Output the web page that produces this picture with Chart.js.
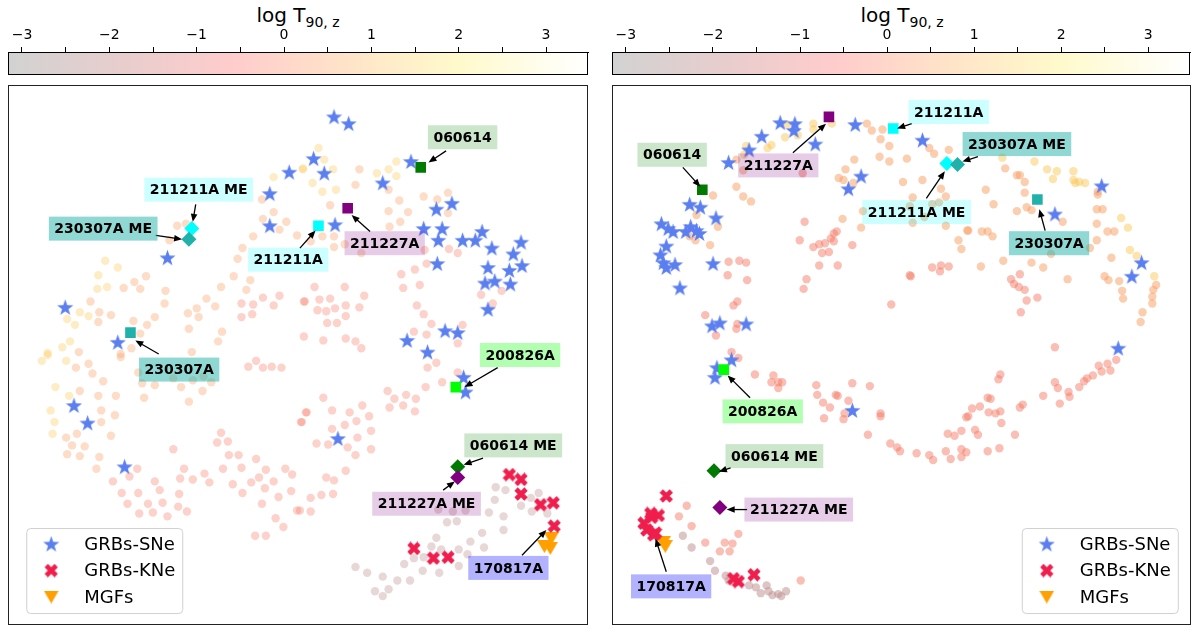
<!DOCTYPE html>
<html>
<head>
<meta charset="utf-8">
<script src="https://cdn.jsdelivr.net/npm/chart.js@4.4.0/dist/chart.umd.min.js"></script>
<style>
body { margin: 0; background: #fff; width: 1200px; height: 637px; overflow: hidden; font-family: "DejaVu Sans"; }
.abs { position: absolute; }
.frame { position: absolute; border: 1.3px solid #222; box-sizing: border-box; }
.frame canvas { position: absolute; left: 0; top: 0; }
.cbtitle { position: absolute; top: 3px; width: 580px; text-align: center; font-size: 20px; color: #000; }
.cbtitle sub { font-size: 14px; }
</style>
</head>
<body>
<div class="cbtitle" style="left:8px">log T<sub>90, z</sub></div>
<div class="cbtitle" style="left:612px">log T<sub>90, z</sub></div>
<canvas id="cbLeft" class="abs" width="600" height="80" style="left:0;top:0"></canvas>
<canvas id="cbRight" class="abs" width="600" height="80" style="left:600px;top:0"></canvas>
<div class="frame" style="left:8px;top:85px;width:580px;height:540px"><canvas id="left" width="578" height="538"></canvas></div>
<div class="frame" style="left:612px;top:85px;width:579px;height:540px"><canvas id="right" width="577" height="538"></canvas></div>
<script>
// colour bar
var cbTicks = [-3, -2.5, -2, -1.5, -1, -0.5, 0, 0.5, 1, 1.5, 2, 2.5, 3];
var cbRange = [-3.16, 3.48];
var cbStops = [[-3.16, '#d2d2d2'], [-1.8, '#e9cdcd'], [-0.6, '#ffcccc'], [0.8, '#ffe5c8'], [2.0, '#fffacc'], [3.48, '#ffffff']];

// log T90,z of each colour band of the background points
var bandLogT = [2.0, 1.0, -0.3, -1.8];
var pointStops = [[-3, [150, 140, 140]], [-1.8, [190, 140, 140]], [-0.3, [245, 125, 105]], [1.0, [249, 158, 98]], [2.0, [252, 200, 90]], [3.4, [255, 240, 170]]];

// background points, left panel
var leftGold = [[303,163],[273,172],[319,142],[325,154],[303,164],[334,164],[313,178],[323,187],[337,185],[379,168],[391,164],[399,156],[399,171],[100,258],[113,265],[93,273],[92,287],[102,285],[35,361],[41,355],[60,361],[49,388],[44,412],[48,424],[46,436],[63,397],[61,318],[69,324],[64,341],[56,347],[41,353],[74,311],[83,315]];
var leftOrange = [[361,164],[357,180],[391,185],[331,201],[402,196],[411,208],[427,192],[441,195],[452,188],[452,209],[391,207],[392,223],[403,218],[311,238],[323,233],[335,233],[346,241],[335,244],[363,250],[142,274],[130,280],[119,286],[136,287],[85,300],[94,311],[106,314],[93,321],[73,352],[70,368],[83,364],[87,374],[98,382],[74,392],[93,397],[111,397],[96,412],[96,424],[110,417],[60,440],[71,436],[66,448],[79,449],[106,438],[61,457],[74,459],[94,460],[91,472],[261,195],[273,208],[262,215],[286,218],[279,226],[297,232],[252,233],[241,245],[236,256],[232,274],[249,278],[245,288],[219,285],[204,297],[213,305],[194,307],[185,312],[196,316],[174,222],[183,220],[166,237],[162,289],[161,302],[151,316],[143,324],[129,320],[136,333],[127,348],[116,354],[186,328],[220,331],[216,341],[189,352],[116,357],[134,373],[138,384],[151,386],[140,399],[178,388],[190,381],[201,377],[209,383],[200,392],[186,403],[170,379]];
var leftSalmon = [[240,302],[252,303],[262,296],[279,294],[273,304],[240,316],[251,313],[304,300],[247,367],[255,361],[262,368],[271,367],[281,368],[306,414],[301,424],[170,452],[219,435],[215,445],[226,444],[227,458],[237,458],[255,462],[221,472],[240,471],[265,473],[285,472],[292,478],[258,481],[250,486],[231,488],[241,497],[264,492],[273,485],[291,495],[278,501],[261,508],[297,515],[275,523],[283,532],[254,541],[265,541],[133,472],[125,480],[108,485],[151,485],[181,472],[177,482],[190,483],[202,477],[207,486],[117,497],[134,497],[156,494],[176,498],[123,508],[144,508],[159,507],[175,511],[135,518],[149,517],[164,521],[184,516],[428,247],[453,246],[462,250],[430,261],[418,267],[404,272],[406,286],[423,283],[315,285],[346,285],[305,300],[320,298],[331,297],[366,294],[318,309],[327,310],[336,307],[347,304],[361,306],[347,315],[328,322],[338,322],[420,304],[427,313],[435,323],[417,331],[430,334],[467,324],[462,343],[304,336],[324,340],[347,338],[357,341],[363,348],[486,293],[498,302],[507,289],[431,368],[440,363],[462,373],[446,383],[429,388],[390,392],[397,400],[409,396],[419,400],[392,409],[406,407],[418,413],[324,399],[307,414],[302,424],[333,412],[351,414],[364,407],[371,418],[358,423],[346,427],[333,431],[373,433],[359,440],[317,446],[329,447],[349,450],[373,452],[357,458],[347,474],[327,481],[335,484],[311,502],[322,499],[334,498],[311,516],[300,515]];
var leftRosy = [[501,491],[511,494],[500,504],[494,517],[509,521],[509,535],[487,538],[489,553],[475,547],[463,555],[472,560],[463,572],[442,514],[457,516],[470,515],[451,527],[461,526],[440,543],[435,552],[445,555],[427,563],[417,564],[407,570],[426,577],[443,579],[545,497],[537,502],[527,510],[538,516],[554,518],[357,573],[369,579],[385,583],[400,587],[413,587],[391,596],[377,598],[385,603]];

// background points, right panel
var rightGold = [[784,118],[811,117],[830,117],[811,123],[782,131],[795,129],[768,139],[764,142],[742,140],[740,149],[1127,214],[1134,224],[1143,253],[1136,247],[1161,274],[1051,164],[1061,166],[1057,174],[1078,166],[1078,175],[1080,178],[1084,177],[1090,178],[1038,156],[1005,152]];
var rightOrange = [[866,117],[871,124],[882,123],[880,133],[889,140],[879,151],[889,156],[907,153],[853,154],[844,164],[837,173],[852,178],[842,175],[903,177],[732,154],[739,165],[732,182],[739,192],[747,197],[708,191],[713,223],[705,242],[691,211],[684,233],[690,237],[841,215],[862,207],[860,224],[930,142],[935,148],[950,144],[923,175],[913,193],[942,184],[947,192],[910,202],[933,200],[940,198],[925,213],[913,219],[947,222],[970,227],[960,237],[963,246],[984,228],[990,228],[995,233],[988,185],[996,200],[1008,163],[1020,170],[1023,170],[1028,177],[1028,188],[1020,207],[1030,203],[1035,206],[1067,218],[1103,187],[1103,190],[1102,205],[1108,205],[1102,220],[1113,228],[1120,228],[1102,237],[1095,245],[1117,255],[1163,283],[1160,288],[1159,295],[1159,302],[1149,311],[1147,321],[1128,289],[1129,297],[1125,279],[1114,278],[1110,274],[1072,277],[1055,251],[1047,265],[1035,260],[1006,258],[983,264],[969,227]];
var rightSalmon = [[800,168],[802,218],[797,237],[811,244],[817,241],[823,240],[829,235],[832,230],[835,228],[832,238],[820,250],[827,249],[851,242],[817,263],[836,263],[724,259],[735,258],[742,260],[723,273],[743,278],[804,277],[801,287],[910,273],[891,303],[729,304],[733,300],[700,314],[732,328],[733,323],[711,335],[727,352],[734,358],[1023,272],[1014,277],[1017,282],[1022,285],[1028,288],[1030,299],[1041,296],[1024,311],[933,265],[942,263],[950,264],[941,269],[911,274],[1059,347],[1122,360],[1113,364],[1104,366],[1116,371],[1107,372],[1098,376],[1092,379],[1089,382],[1084,388],[1073,393],[1074,398],[1064,405],[1059,383],[1062,389],[1047,397],[1026,406],[1023,409],[1003,375],[1001,380],[990,399],[993,400],[982,408],[974,410],[991,414],[998,415],[1003,413],[970,418],[968,419],[1004,425],[977,432],[980,437],[949,436],[956,438],[963,433],[1018,437],[947,454],[963,452],[968,455],[963,460],[952,462],[990,454],[1002,451],[930,458],[934,463],[917,456],[900,454],[751,375],[770,376],[768,383],[775,383],[779,383],[775,389],[814,386],[851,384],[869,387],[815,396],[821,404],[828,409],[834,396],[836,397],[847,402],[843,415],[842,421],[822,420],[867,437],[880,415],[880,418],[890,446],[897,450],[681,510],[673,521],[686,531],[700,548],[734,539],[720,548],[728,549],[798,587],[715,557],[725,557]];
var rightRosy = [[677,541],[686,553],[705,567],[710,577],[721,582],[724,587],[733,588],[745,592],[752,594],[763,592],[757,600],[765,598],[769,602],[775,601],[778,603],[783,598]];

// GRBs-SNe, GRBs-KNe, MGFs
var leftStars = [[335,110],[350,117],[314,153],[325,168],[414,156],[385,178],[289,167],[269,189],[269,222],[164,255],[59,306],[113,342],[336,221],[440,205],[456,199],[427,225],[446,225],[442,237],[467,237],[480,237],[487,228],[497,245],[527,239],[519,251],[528,263],[493,265],[515,268],[441,261],[490,281],[500,279],[516,282],[493,308],[449,330],[462,332],[410,340],[431,352],[68,407],[82,425],[120,470],[339,441],[468,378],[470,393]];
var rightStars = [[777,116],[792,117],[791,124],[758,130],[745,144],[724,157],[813,138],[854,118],[860,171],[847,184],[923,134],[684,200],[695,203],[711,214],[655,220],[662,225],[667,228],[680,228],[685,223],[694,230],[691,227],[660,243],[654,252],[657,260],[660,265],[669,262],[708,261],[674,286],[707,325],[715,322],[742,323],[727,360],[712,368],[710,378],[851,412],[1107,181],[1059,210],[1148,260],[1138,274],[1124,348]];
var leftKNe = [[417,554],[437,564],[452,563],[515,478],[527,483],[527,498],[547,509],[560,507],[561,531]];
var rightKNe = [[660,500],[645,522],[637,528],[640,535],[649,538],[652,520],[644,518],[647,540],[734,588],[750,581],[729,585]];
var leftMGF = [[558,544],[551,552],[557,554]];
var rightMGF = [[659,552],[657,548]];
var legendNames = ['GRBs-SNe', 'GRBs-KNe', 'MGFs'];

// named bursts
var sqNames = ['060614', '211211A', '211227A', '230307A', '200826A'];
var leftSquares = [[424,162],[319,222],[349,204],[126,332],[460,388]];
var rightSquares = [[697,185],[893,122],[827,110],[1041,195],[719,370]];
var dmNames = ['060614 ME', '211211A ME', '211227A ME', '230307A ME'];
var leftDiamonds = [[462,470],[189,225],[462,481],[186,236]];
var rightDiamonds = [[709,474],[948,158],[715,512],[959,159]];

var annNames = ['060614', '211211A ME', '230307A ME', '211211A', '211227A', '230307A', '200826A', '060614 ME', '211227A ME', '170817A'];
var leftLabelAt = [[467,131],[196,185],[98,225],[288,257],[387,240],[176,370],[526,355],[519,448],[430,508],[514,574]];
var leftArrowFrom = [[450,145],[193,200],[152,232],[300,245],[372,228],[155,354],[503,368],[488,461],[447,494],[528,561]];
var leftArrowTo = [[432,157],[190,218],[179,236],[316,227],[353,211],[131,340],[469,388],[468,468],[459,485],[553,535]];
var rightLabelAt = [[666,149],[917,208],[1020,138],[950,105],[775,160],[1053,240],[759,413],[771,459],[796,514],[665,593]];
var rightArrowFrom = [[677,162],[927,194],[980,151],[912,117],[790,147],[1049,227],[746,399],[726,471],[743,514],[660,578]];
var rightArrowTo = [[695,182],[946,166],[964,156],[897,122],[824,117],[1043,205],[723,376],[714,475],[722,514],[649,544]];

var markerColor = { '060614': '#007a00', '211211A': '#00ffff', '211227A': '#800080', '230307A': '#20b2aa', '200826A': '#00ff00' };
var boxColor = { '060614': 'rgba(0,128,0,0.2)', '211211A': 'rgba(0,255,255,0.2)', '211227A': 'rgba(128,0,128,0.2)', '230307A': 'rgba(32,178,170,0.5)', '200826A': 'rgba(0,255,0,0.3)', '170817A': 'rgba(0,0,255,0.3)' };

Chart.defaults.font.family = 'DejaVu Sans';
Chart.defaults.animation = false;

function lerpColor(stops, t) {
    if (t <= stops[0][0]) return stops[0][1];
    for (var i = 1; i < stops.length; i++) {
        if (t <= stops[i][0]) {
            var f = (t - stops[i - 1][0]) / (stops[i][0] - stops[i - 1][0]);
            var a = stops[i - 1][1], b = stops[i][1];
            return [0, 1, 2].map(function (k) { return Math.round(a[k] + (b[k] - a[k]) * f) });
        }
    }
    return stops[stops.length - 1][1];
}

function pts(a) { return a.map(function (p) { return { x: p[0], y: p[1] } }) }

// marker images
function starImg(s, color) {
    var c = document.createElement('canvas'); c.width = s; c.height = s;
    var g = c.getContext('2d'), R = s / 2, r = R * 0.4;
    g.fillStyle = color; g.beginPath();
    for (var i = 0; i < 10; i++) {
        var ang = -Math.PI / 2 + i * Math.PI / 5, rr = i % 2 ? r : R;
        g.lineTo(R + rr * Math.cos(ang), R + rr * Math.sin(ang) + 0.6);
    }
    g.closePath(); g.fill();
    return c;
}
function xImg(s, color) {
    var c = document.createElement('canvas'); c.width = s; c.height = s;
    var g = c.getContext('2d');
    g.strokeStyle = color; g.lineWidth = s * 0.33; g.lineCap = 'butt';
    g.beginPath(); g.moveTo(2, 2); g.lineTo(s - 2, s - 2); g.moveTo(s - 2, 2); g.lineTo(2, s - 2); g.stroke();
    return c;
}
function triImg(w, h, color) {
    var c = document.createElement('canvas'); c.width = w; c.height = h;
    var g = c.getContext('2d');
    g.fillStyle = color; g.beginPath(); g.moveTo(0, 0); g.lineTo(w, 0); g.lineTo(w / 2, h); g.closePath(); g.fill();
    return c;
}
var STAR = starImg(17, '#5b7fef');
var CROSS = xImg(14, '#f01e4c');
var TRI = triImg(15, 13, '#ffa000');
var legendIcons = [STAR, CROSS, TRI];

function overlay(labelAt, from, to, legendAt) {
    return {
        id: 'overlay',
        afterDatasetsDraw: function (chart) {
            var ctx = chart.ctx, sx = chart.scales.x, sy = chart.scales.y;
            ctx.save();
            annNames.forEach(function (name, i) {
                var tx = sx.getPixelForValue(from[i][0]), ty = sy.getPixelForValue(from[i][1]);
                var hx = sx.getPixelForValue(to[i][0]), hy = sy.getPixelForValue(to[i][1]);
                var d = Math.hypot(hx - tx, hy - ty), ux = (hx - tx) / d, uy = (hy - ty) / d;
                ctx.strokeStyle = '#000'; ctx.fillStyle = '#000'; ctx.lineWidth = 1.3;
                ctx.beginPath(); ctx.moveTo(tx, ty); ctx.lineTo(hx - ux * 6, hy - uy * 6); ctx.stroke();
                ctx.beginPath();
                ctx.moveTo(hx, hy);
                ctx.lineTo(hx - ux * 8 - uy * 3.3, hy - uy * 8 + ux * 3.3);
                ctx.lineTo(hx - ux * 8 + uy * 3.3, hy - uy * 8 - ux * 3.3);
                ctx.closePath(); ctx.fill();
            });
            ctx.font = 'bold 14px "DejaVu Sans"';
            ctx.textAlign = 'center'; ctx.textBaseline = 'middle';
            annNames.forEach(function (name, i) {
                var cx = sx.getPixelForValue(labelAt[i][0]), cy = sy.getPixelForValue(labelAt[i][1]);
                var w = ctx.measureText(name).width + 11, h = 24;
                ctx.fillStyle = boxColor[name.replace(' ME', '')];
                ctx.fillRect(cx - w / 2, cy - h / 2, w, h);
                ctx.fillStyle = '#000';
                ctx.fillText(name, cx, cy + 1);
            });
            // legend
            var bx = sx.getPixelForValue(legendAt[0]), by = sy.getPixelForValue(legendAt[1]);
            ctx.beginPath();
            ctx.roundRect(bx + 0.5, by + 0.5, 156, 85, 4);
            ctx.fillStyle = 'rgba(255,255,255,0.8)'; ctx.fill();
            ctx.strokeStyle = '#d0d0d0'; ctx.lineWidth = 1; ctx.stroke();
            ctx.font = '18px "DejaVu Sans"'; ctx.textAlign = 'left'; ctx.fillStyle = '#000';
            legendNames.forEach(function (n, i) {
                var yy = by + 16 + i * 26.5, ic = legendIcons[i];
                ctx.drawImage(ic, bx + 25 - ic.width / 2, yy - ic.height / 2);
                ctx.fillText(n, bx + 58, yy + 1);
            });
            ctx.restore();
        }
    };
}

function panel(id, bands, alpha, stars, kne, mgf, squares, diamonds, labelAt, from, to, legendAt, xr) {
    var sets = bands.map(function (b, i) {
        var c = lerpColor(pointStops, bandLogT[i]);
        return {
            data: pts(b), pointRadius: 4.2, pointHoverRadius: 4.2, borderWidth: 0, order: 10,
            backgroundColor: 'rgba(' + c.join(',') + ',' + alpha + ')'
        };
    });
    sets.push({ data: pts(stars), pointStyle: STAR, order: 5 });
    sets.push({ data: pts(kne), pointStyle: CROSS, order: 4 });
    sets.push({ data: pts(mgf), pointStyle: TRI, order: 4 });
    sets.push({
        data: pts(squares), pointStyle: 'rect', pointRadius: 7.5, borderWidth: 0, order: 1,
        backgroundColor: sqNames.map(function (n) { return markerColor[n] })
    });
    sets.push({
        data: pts(diamonds), pointStyle: 'rectRot', pointRadius: 7.5, borderWidth: 0, order: 1,
        backgroundColor: dmNames.map(function (n) { return markerColor[n.replace(' ME', '')] })
    });
    return new Chart(document.getElementById(id), {
        type: 'scatter',
        data: { datasets: sets },
        options: {
            responsive: false,
            layout: { padding: 0 },
            plugins: { legend: { display: false }, tooltip: { enabled: false } },
            scales: {
                x: { type: 'linear', min: xr[0], max: xr[1], display: false },
                y: { type: 'linear', min: 86, max: 624, reverse: true, display: false }
            }
        },
        plugins: [overlay(labelAt, from, to, legendAt)]
    });
}

panel('left', [leftGold, leftOrange, leftSalmon, leftRosy], 0.35, leftStars, leftKNe, leftMGF,
    leftSquares, leftDiamonds, leftLabelAt, leftArrowFrom, leftArrowTo, [19, 533], [9, 587]);
panel('right', [rightGold, rightOrange, rightSalmon, rightRosy], 0.5, rightStars, rightKNe, rightMGF,
    rightSquares, rightDiamonds, rightLabelAt, rightArrowFrom, rightArrowTo, [1025, 533], [613, 1190]);

// colour bars
var cbPaint = {
    id: 'cbPaint',
    beforeDraw: function (chart) {
        var ctx = chart.ctx, a = chart.chartArea, sx = chart.scales.x;
        var x0 = sx.getPixelForValue(cbRange[0]), x1 = sx.getPixelForValue(cbRange[1]);
        var grad = ctx.createLinearGradient(x0, 0, x1, 0);
        cbStops.forEach(function (s) { grad.addColorStop((s[0] - cbRange[0]) / (cbRange[1] - cbRange[0]), s[1]) });
        ctx.save();
        ctx.fillStyle = grad;
        ctx.fillRect(a.left, a.top, a.right - a.left, a.bottom - a.top);
        ctx.strokeStyle = '#000'; ctx.lineWidth = 1;
        ctx.strokeRect(a.left + 0.5, a.top + 0.5, a.right - a.left - 1, a.bottom - a.top - 1);
        ctx.restore();
    }
};
function colorbar(id, padLeft, padRight) {
    return new Chart(document.getElementById(id), {
        type: 'scatter',
        data: { datasets: [] },
        options: {
            responsive: false,
            layout: { padding: { left: padLeft, right: padRight, top: 0, bottom: 5 } },
            plugins: { legend: { display: false }, tooltip: { enabled: false } },
            scales: {
                x: {
                    type: 'linear', position: 'top', min: cbRange[0], max: cbRange[1],
                    afterBuildTicks: function (s) { s.ticks = cbTicks.map(function (v) { return { value: v } }) },
                    afterFit: function (s) { s.height = 52 },
                    ticks: {
                        autoSkip: false, maxRotation: 0, padding: 3, color: '#000', font: { size: 14 },
                        callback: function (v) { return Number.isInteger(v) ? (v < 0 ? '\u2212' + Math.abs(v) : String(v)) : '' }
                    },
                    grid: { drawOnChartArea: false, tickLength: 5, color: '#000' },
                    border: { display: true, color: '#000' }
                },
                y: { display: false }
            }
        },
        plugins: [cbPaint]
    });
}
colorbar('cbLeft', 8, 12);
colorbar('cbRight', 12, 10);
</script>
</body>
</html>
